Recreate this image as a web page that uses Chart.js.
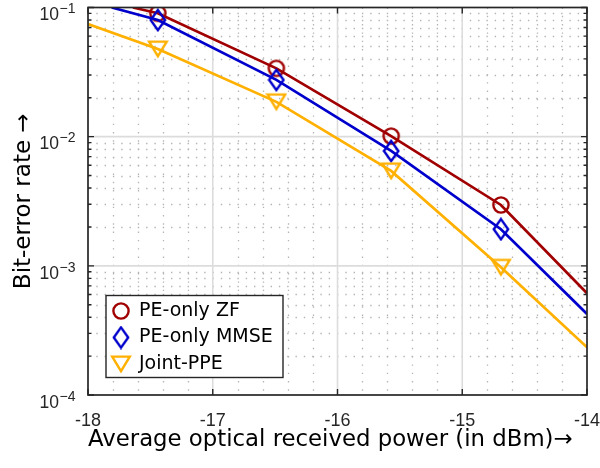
<!DOCTYPE html>
<html>
<head>
<meta charset="utf-8">
<script src="https://cdn.jsdelivr.net/npm/chart.js@4/dist/chart.umd.min.js"></script>
<style>
  html, body { margin: 0; padding: 0; background: #fff; }
  #plot { display: block; }
</style>
</head>
<body>
<canvas id="plot" width="600" height="468"></canvas>
<script>
// Measured operating points (received power in dBm) where markers are placed
const markerPower = [-17.44, -16.49, -15.57, -14.69];

// BER curves: each curve runs across the plotted power range
const zfPower    = [-17.64, -17.44, -16.49, -15.57, -14.69, -14.0];
const zfBer      = [0.1, 0.0902, 0.0338, 0.0101, 0.00296, 0.000614];
const mmsePower  = [-17.81, -17.44, -16.49, -15.57, -14.69, -14.0];
const mmseBer    = [0.1, 0.0800, 0.0275, 0.00775, 0.00192, 0.000424];
const jointPower = [-18.0, -17.44, -16.49, -15.57, -14.69, -14.0];
const jointBer   = [0.0745, 0.0477, 0.0186, 0.00543, 0.000975, 0.000234];

const seriesLabels = ['PE-only ZF', 'PE-only MMSE', 'Joint-PPE'];
const seriesColors = ['#a00000', '#0000cc', '#ffb000'];

const xTicks = [-18, -17, -16, -15, -14];
const yDecades = [-4, -3, -2, -1];

const AXIS = '#262626';

// Hollow marker glyphs, drawn once into small canvases
function makeMarker(shape, color) {
  const c = document.createElement('canvas');
  const g = c.getContext('2d');
  if (shape === 'circle') {
    c.width = 20; c.height = 20;
    g.strokeStyle = color; g.lineWidth = 2.4;
    g.beginPath(); g.arc(10, 10, 7.6, 0, Math.PI * 2); g.stroke();
  } else if (shape === 'diamond') {
    c.width = 18; c.height = 24;
    g.strokeStyle = color; g.lineWidth = 2.4; g.lineJoin = 'miter';
    g.beginPath();
    g.moveTo(9, 1.9); g.lineTo(16.2, 12); g.lineTo(9, 22.1); g.lineTo(1.8, 12);
    g.closePath(); g.stroke();
  } else {
    c.width = 22; c.height = 22;
    g.strokeStyle = color; g.lineWidth = 2.4; g.lineJoin = 'miter';
    g.beginPath();
    g.moveTo(2.2, 3.6); g.lineTo(19.8, 3.6); g.lineTo(11, 18.2);
    g.closePath(); g.stroke();
  }
  return c;
}

const markers = [
  makeMarker('circle', seriesColors[0]),
  makeMarker('diamond', seriesColors[1]),
  makeMarker('triangle', seriesColors[2])
];

function toPoints(xs, ys) { return xs.map((x, i) => ({ x: x, y: ys[i] })); }

function isMarker(ctx) {
  return !!(ctx.raw && markerPower.indexOf(ctx.raw.x) !== -1);
}

function makeDataset(idx, xs, ys) {
  return {
    label: seriesLabels[idx],
    data: toPoints(xs, ys),
    borderColor: seriesColors[idx],
    backgroundColor: seriesColors[idx],
    borderWidth: 2.7,
    pointStyle: markers[idx],
    pointRadius: ctx => isMarker(ctx) ? 7 : 0,
    pointHoverRadius: ctx => isMarker(ctx) ? 7 : 0,
    tension: 0,
    order: 3 - idx
  };
}

// Background grid (major solid, minor dotted), legend frame, box, ticks, decade labels
const gridPlugin = {
  id: 'matGrid',
  beforeDraw(chart) {
    const { ctx, chartArea: a, scales: { x, y } } = chart;
    ctx.save();
    ctx.fillStyle = '#fff';
    ctx.fillRect(0, 0, chart.width, chart.height);

    // minor grid
    ctx.strokeStyle = '#b4b4b4';
    ctx.lineWidth = 1.3;
    ctx.setLineDash([1.4, 6.9]);
    for (let k = 1; k < 20; k++) {
      if (k % 5 === 0) continue;
      const px = Math.round(x.getPixelForValue(-18 + k * 0.2)) + 0.5;
      ctx.beginPath(); ctx.moveTo(px, a.top); ctx.lineTo(px, a.bottom); ctx.stroke();
    }
    for (let e = -4; e < -1; e++) {
      for (let m = 2; m <= 9; m++) {
        const py = Math.round(y.getPixelForValue(m * Math.pow(10, e))) + 0.5;
        ctx.beginPath(); ctx.moveTo(a.left, py); ctx.lineTo(a.right, py); ctx.stroke();
      }
    }
    ctx.setLineDash([]);

    // major grid
    ctx.strokeStyle = '#dcdcdc';
    ctx.lineWidth = 1.6;
    xTicks.slice(1, -1).forEach(v => {
      const px = x.getPixelForValue(v);
      ctx.beginPath(); ctx.moveTo(px, a.top); ctx.lineTo(px, a.bottom); ctx.stroke();
    });
    yDecades.slice(1, -1).forEach(e => {
      const py = y.getPixelForValue(Math.pow(10, e));
      ctx.beginPath(); ctx.moveTo(a.left, py); ctx.lineTo(a.right, py); ctx.stroke();
    });

    // legend frame
    ctx.fillStyle = '#fff';
    ctx.fillRect(106, 295.5, 177, 82);
    ctx.strokeStyle = AXIS;
    ctx.lineWidth = 1.4;
    ctx.strokeRect(106, 295.5, 177, 82);
    ctx.restore();
  },
  afterLayout(chart) {
    const lg = chart.legend;
    if (lg) {
      const w = lg.width;
      lg.left = 105;
      lg.top = 294;
      lg.right = lg.left + w;
      lg.height = 100;
      lg.bottom = lg.top + 100;
    }
  },
  afterDraw(chart) {
    const { ctx, chartArea: a, scales: { x, y } } = chart;
    ctx.save();
    // axes box
    ctx.strokeStyle = AXIS;
    ctx.lineWidth = 1.7;
    ctx.strokeRect(a.left, a.top, a.right - a.left, a.bottom - a.top);

    // inward tick marks
    ctx.lineWidth = 1.4;
    xTicks.forEach(v => {
      const px = x.getPixelForValue(v);
      ctx.beginPath();
      ctx.moveTo(px, a.bottom); ctx.lineTo(px, a.bottom - 6);
      ctx.moveTo(px, a.top); ctx.lineTo(px, a.top + 6);
      ctx.stroke();
    });
    for (let e = -4; e <= -1; e++) {
      const py = y.getPixelForValue(Math.pow(10, e));
      ctx.beginPath();
      ctx.moveTo(a.left, py); ctx.lineTo(a.left + 6, py);
      ctx.moveTo(a.right, py); ctx.lineTo(a.right - 6, py);
      ctx.stroke();
      if (e === -1) break;
      for (let m = 2; m <= 9; m++) {
        const pm = y.getPixelForValue(m * Math.pow(10, e));
        ctx.beginPath();
        ctx.moveTo(a.left, pm); ctx.lineTo(a.left + 3.5, pm);
        ctx.moveTo(a.right, pm); ctx.lineTo(a.right - 3.5, pm);
        ctx.stroke();
      }
    }

    // decade labels 10^k
    ctx.fillStyle = AXIS;
    yDecades.forEach(e => {
      const py = y.getPixelForValue(Math.pow(10, e));
      ctx.textBaseline = 'alphabetic';
      ctx.font = '17.5px "Liberation Sans", Arial, sans-serif';
      ctx.textAlign = 'right';
      ctx.fillText('10', 59, py + 12.8);
      ctx.font = '14px "Liberation Sans", Arial, sans-serif';
      ctx.textAlign = 'left';
      ctx.fillText('\u2212' + Math.abs(e), 59.5, py + 5.8);
    });
    ctx.restore();
  }
};

new Chart(document.getElementById('plot'), {
  type: 'line',
  data: {
    datasets: [
      makeDataset(0, zfPower, zfBer),
      makeDataset(1, mmsePower, mmseBer),
      makeDataset(2, jointPower, jointBer)
    ]
  },
  options: {
    responsive: false,
    animation: false,
    events: [],
    layout: { padding: { top: 7.5, right: 13, left: 0, bottom: 0 } },
    scales: {
      x: {
        type: 'linear',
        min: -18,
        max: -14,
        afterBuildTicks: s => { s.ticks = xTicks.map(v => ({ value: v })); },
        afterFit: s => { s.height = 73; s.paddingLeft = 0; s.paddingRight = 0; },
        ticks: {
          font: { family: '"Liberation Sans", Arial, sans-serif', size: 18 },
          color: AXIS,
          padding: 15,
          maxRotation: 0,
          autoSkip: false
        },
        grid: { display: false, drawTicks: false },
        border: { display: false },
        title: {
          display: true,
          align: 'start',
          text: 'Average optical received power (in dBm)\u2192',
          font: { family: '"DejaVu Sans", sans-serif', size: 22.8 },
          color: '#000',
          padding: { top: 0, bottom: 14 }
        }
      },
      y: {
        type: 'logarithmic',
        min: 1e-4,
        max: 1e-1,
        afterFit: s => { s.width = 88; s.paddingTop = 0; s.paddingBottom = 0; },
        ticks: { display: false },
        grid: { display: false, drawTicks: false },
        border: { display: false },
        title: {
          display: true,
          text: 'Bit-error rate \u2192',
          font: { family: '"DejaVu Sans", sans-serif', size: 23 },
          color: '#000',
          padding: { top: 10, bottom: 0 }
        }
      }
    },
    plugins: {
      tooltip: { enabled: false },
      legend: {
        position: 'chartArea',
        align: 'start',
        labels: {
          usePointStyle: true,
          boxWidth: 17,
          boxHeight: 17,
          padding: 7.5,
          color: '#000',
          font: { family: '"DejaVu Sans", sans-serif', size: 19 },
          sort: (a, b) => a.datasetIndex - b.datasetIndex
        }
      }
    }
  },
  plugins: [gridPlugin]
});
</script>
</body>
</html>
